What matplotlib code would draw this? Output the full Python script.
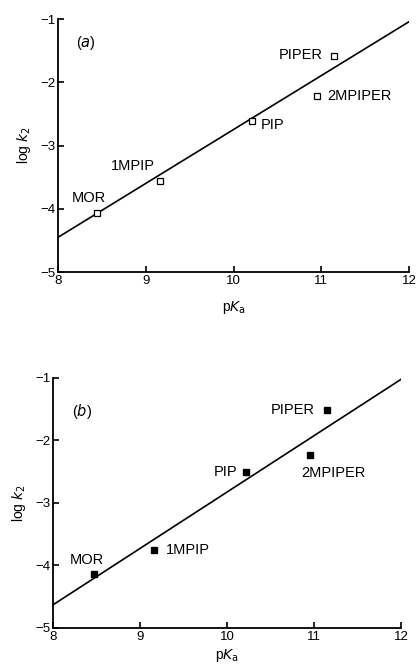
import numpy as np
import matplotlib
matplotlib.use('Agg')
import matplotlib.pyplot as plt

plt.rcParams['font.family'] = ['Liberation Sans', 'DejaVu Sans']

# amines
names = ['MOR', '1MPIP', 'PIP', 'PIPER', '2MPIPER']

# panel (a)
pka_a = [8.44, 9.16, 10.21, 11.15, 10.95]
logk_a = [-4.06, -3.56, -2.61, -1.58, -2.21]
fit_a = [-4.45, -1.04]   # log k2 at pKa 8 and 12

# panel (b)
pka_b = [8.47, 9.16, 10.22, 11.15, 10.95]
logk_b = [-4.14, -3.75, -2.51, -1.51, -2.24]
fit_b = [-4.63, -1.02]

fit_x = [8, 12]

# label positions (data coords)
lab_a = [(8.35, -3.83), (8.85, -3.32), (10.44, -2.68), (10.77, -1.57), (11.44, -2.21)]
lab_b = [(8.39, -3.92), (9.55, -3.76), (9.98, -2.51), (10.76, -1.51), (11.22, -2.52)]


def style_axis(ax, xpad=9):
    ax.set_xlim(8, 12)
    ax.set_ylim(-5, -1)
    ax.set_xticks([8, 9, 10, 11, 12])
    ax.set_yticks([-5, -4, -3, -2, -1])
    for s in ['top', 'right']:
        ax.spines[s].set_visible(False)
    for s in ['left', 'bottom']:
        ax.spines[s].set_linewidth(1.3)
    ax.tick_params(direction='in', length=4, width=1.2, labelsize=9.5, pad=2)
    ax.set_xlabel('p$K_{\\rm a}$', fontsize=10, labelpad=xpad)
    ax.set_ylabel('log $k_2$', fontsize=10, labelpad=5)


fig = plt.figure(figsize=(4.17, 6.67), dpi=100)

ax1 = fig.add_axes([0.139, 0.592, 0.842, 0.3793])
ax1.plot(fit_x, fit_a, color='black', lw=1.2)
ax1.plot(pka_a, logk_a, 's', ms=5, mfc='white', mec='black', mew=0.9, clip_on=False)
for n, (tx, ty) in zip(names, lab_a):
    ax1.text(tx, ty, n, ha='center', va='center', fontsize=10.5)
ax1.text(8.32, -1.38, '($a$)', ha='center', va='center', fontsize=10.5)
style_axis(ax1)

ax2 = fig.add_axes([0.127, 0.0585, 0.835, 0.3748])
ax2.plot(fit_x, fit_b, color='black', lw=1.2)
ax2.plot(pka_b, logk_b, 's', ms=5, color='black', clip_on=False)
for n, (tx, ty) in zip(names, lab_b):
    ax2.text(tx, ty, n, ha='center', va='center', fontsize=10.5)
ax2.text(8.33, -1.54, '($b$)', ha='center', va='center', fontsize=10.5)
style_axis(ax2, xpad=3)

fig.savefig('out.png', dpi=100)
